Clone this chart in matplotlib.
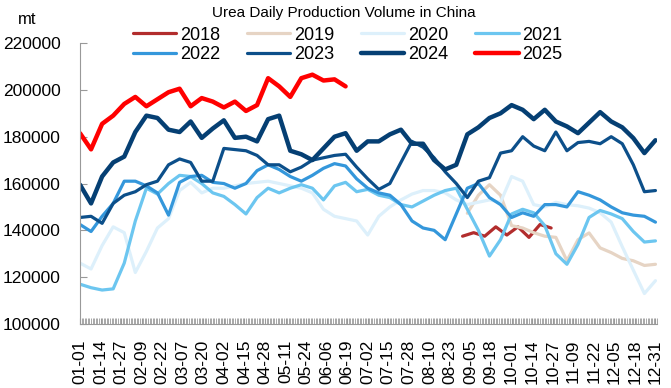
import numpy as np
import matplotlib
matplotlib.use("Agg")
import matplotlib.pyplot as plt
from matplotlib.ticker import MultipleLocator, FixedLocator

plt.rcParams['font.family'] = ['Liberation Sans', 'DejaVu Sans']

# tick labels (every 13 days, day 0 = 01-01)
tick_labels = ['01-01', '01-14', '01-27', '02-09', '02-22', '03-07', '03-20', '04-02',
               '04-15', '04-28', '05-11', '05-24', '06-06', '06-19', '07-02', '07-15',
               '07-28', '08-10', '08-23', '09-05', '09-18', '10-01', '10-14', '10-27',
               '11-09', '11-22', '12-05', '12-18', '12-31']

# weekly readings (day of year, every 7 days)
week_days = np.arange(0, 365, 7)

v2018_start = 242
v2018 = [137500, 139000, 137500, 141500, 138000, 141500, 137000, 142500, 141000]

v2019_start = 245
v2019 = [147300, 155000, 159500, 155000, 142000, 141000, 139000, 137500, 137000, 127000,
         136000, 138900, 132500, 130500, 128000, 127000, 125000, 125500]

v2020 = [126000, 123500, 133500, 141500, 139000, 122000, 131000, 141000, 145000, 157000,
         160500, 156000, 158000, 158000, 159000, 160000, 160500, 161000, 160000, 159000,
         158000, 156000, 149000, 146000, 145000, 144000, 138000, 146000, 150000, 153000,
         155500, 157000, 157000, 156000, 153000, 151000, 152000, 153000, 152000, 163000,
         161000, 151000, 150000, 152000, 151000, 150500, 149500, 147500, 143500, 133000,
         123000, 113000, 118500]

v2021 = [117000, 115500, 114500, 115000, 126000, 144000, 158000, 155500, 160000, 163500,
         163000, 160000, 156000, 154500, 151000, 147000, 154000, 158000, 156000, 158000,
         159500, 158000, 153000, 159000, 160500, 156500, 157500, 155000, 154000, 151000,
         150000, 152500, 155000, 157000, 158000, 149000, 140000, 129000, 136000, 147000,
         149000, 147500, 142000, 130000, 125500, 134000, 145500, 148500, 147000, 145000,
         139500, 135000, 135500]

v2022 = [142500, 139500, 146000, 151500, 161000, 161000, 159000, 156000, 146500, 160500,
         163000, 163500, 160500, 160000, 158000, 160000, 165500, 168000, 166000, 163000,
         161000, 163500, 166500, 168500, 167500, 162000, 158000, 156000, 155000, 151000,
         144000, 141000, 140000, 136000, 147000, 158000, 160000, 154000, 151000, 145500,
         147500, 146000, 151000, 151000, 150000, 156500, 155000, 153000, 150000, 147500,
         146500, 146000, 143500]

v2023 = [145500, 146000, 143000, 151500, 155000, 156500, 159500, 161000, 168000, 170500,
         169000, 161000, 161000, 175000, 174500, 174000, 172000, 168000, 168000, 165000,
         167000, 170000, 171000, 172000, 172500, 167000, 162000, 157500, 160000, 169000,
         178000, 175500, 171000, 165000, 160000, 154000, 161000, 162500, 173000, 174000,
         180000, 176000, 174000, 182000, 174000, 177500, 178000, 177000, 180000, 177000,
         168000, 156500, 157000]

v2024 = [159500, 151500, 163000, 169000, 171500, 182000, 189000, 188000, 183000, 182000,
         186500, 179500, 183500, 187000, 179500, 180000, 178000, 187500, 189000, 174000,
         172500, 170000, 175000, 180000, 181500, 174000, 178000, 178000, 181000, 183000,
         177000, 177000, 170000, 166000, 168000, 181000, 184000, 188000, 190000, 193500,
         191500, 187500, 191500, 186500, 184400, 181500, 186000, 190500, 186500, 184000,
         179400, 173000, 178500]

v2025 = [181500, 174600, 185500, 189000, 194000, 197000, 193000, 196000, 199000, 200500,
         193000, 196500, 195000, 192500, 195000, 191000, 193500, 205000, 201500, 197000,
         205000, 206500, 204000, 204500, 201500]

series = [
    ('2018', v2018_start + 7 * np.arange(len(v2018)), v2018, '#B22D2D', 2.3),
    ('2019', v2019_start + 7 * np.arange(len(v2019)), v2019, '#E6D4C4', 2.3),
    ('2020', week_days, v2020, '#DDF0FB', 2.3),
    ('2021', week_days, v2021, '#6CC6F0', 2.3),
    ('2022', week_days, v2022, '#3497DB', 2.3),
    ('2023', week_days, v2023, '#0C4F8A', 2.3),
    ('2024', week_days, v2024, '#053F73', 3.2),
    ('2025', week_days[:len(v2025)], v2025, '#FF0000', 3.2),
]

fig = plt.figure(figsize=(6.71, 3.88), dpi=100)
ax = fig.add_axes([0.1192, 0.165, 0.860, 0.724])

handles = []
for name, x, y, c, lw in series:
    h, = ax.plot(x, y, color=c, lw=lw, label=name, solid_joinstyle='round', solid_capstyle='round')
    handles.append(h)

ax.set_xlim(0, 365)
ax.set_ylim(100000, 220000)
ax.set_yticks(np.arange(100000, 220001, 20000))
ax.set_yticklabels([str(v) for v in range(100000, 220001, 20000)], fontsize=12.5)
ax.xaxis.set_major_locator(FixedLocator(np.arange(0, 365, 13)))
ax.xaxis.set_minor_locator(MultipleLocator(1))
ax.set_xticklabels(tick_labels, rotation=90, fontsize=12.5)

for s in ['top', 'right']:
    ax.spines[s].set_visible(False)
for s in ['left', 'bottom']:
    ax.spines[s].set_color('#999999')
ax.tick_params(axis='y', direction='in', length=5, color='#999999', pad=14)
ax.tick_params(axis='x', which='both', direction='in', length=4, color='#999999', pad=11)

fig.text(0.513, 1 - 13 / 388, 'Urea Daily Production Volume in China', ha='center', va='center', fontsize=11)
fig.text(27 / 671, 1 - 20 / 388, 'mt', ha='center', va='center', fontsize=12)

# legend reads row by row: 2018-2021 on top, 2022-2025 below
order = [0, 4, 1, 5, 2, 6, 3, 7]
fig.legend([handles[i] for i in order], [series[i][0] for i in order],
           loc='center', bbox_to_anchor=(0.518, 1 - 45 / 388), ncol=4, frameon=False,
           fontsize=13, handlelength=2.4, handletextpad=0.2, columnspacing=1.5,
           labelspacing=0.15, borderpad=0)

fig.savefig('out.png', dpi=100)
